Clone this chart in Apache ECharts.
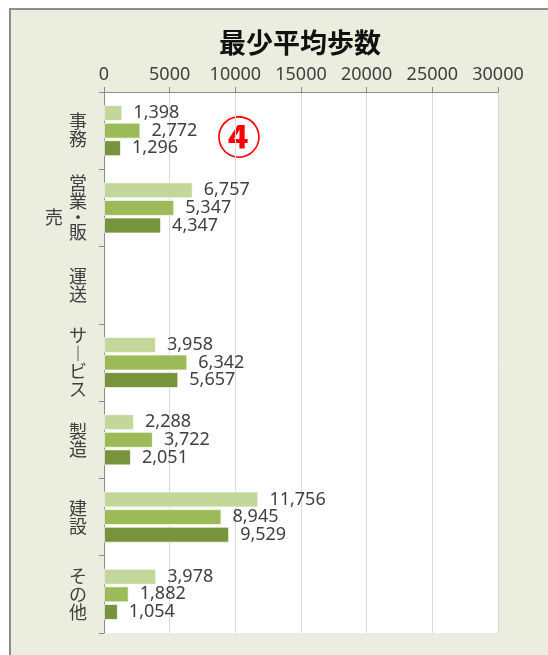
<!DOCTYPE html>
<html>
<head>
<meta charset="utf-8">
<script src="https://cdn.jsdelivr.net/npm/echarts@6/dist/echarts.min.js"></script>
<style>
  html, body { margin: 0; padding: 0; background: #ffffff; }
  #frame {
    position: absolute; left: 9px; top: 8px; width: 539px; height: 647px;
    background: #EBEEDF; box-sizing: border-box;
    border-left: 2px solid #8c8c8c; border-top: 2px solid #8c8c8c;
  }
  #chart { position: absolute; left: 0; top: 0; width: 548px; height: 655px; }
</style>
</head>
<body>
<div id="frame"></div>
<div id="chart"></div>
<script>
// Occupation categories, top to bottom
const categories = ['事務', '営業・販売', '運送', 'サービス', '製造', '建設', 'その他'];

// Three survey groups (no bars for 運送)
const group1 = [1398, 6757, null, 3958, 2288, 11756, 3978];
const group2 = [2772, 5347, null, 6342, 3722, 8945, 1882];
const group3 = [1296, 4347, null, 5657, 2051, 9529, 1054];

// Value axis range and step
const axisMin = 0;
const axisMax = 30000;
const axisStep = 5000;

const titleText = '最少平均歩数';
const markText = '④';

const CJK = "'Noto Sans CJK JP', 'Noto Sans CJK SC', sans-serif";
const LATIN = "'Noto Sans', 'Liberation Sans', sans-serif";
const textColor = '#404040';

// Category names are written vertically, one character per line
function verticalLabel(name) {
  if (name === '営業・販売') {
    return '{c|営}\n{c|業}\n{s|売}{d|・}\n{c|販}';
  }
  return name.split('').map(ch => '{c|' + (ch === 'ー' ? '︱' : ch) + '}').join('\n');
}

const groups = [
  { name: 'グループ1', data: group1, color: '#C4D79B' },
  { name: 'グループ2', data: group2, color: '#9BBB59' },
  { name: 'グループ3', data: group3, color: '#77933C' }
];

const chart = echarts.init(document.getElementById('chart'), null, { renderer: 'canvas' });

chart.setOption({
  backgroundColor: 'transparent',
  animation: false,
  title: {
    text: titleText,
    left: 295,
    top: 24,
    textAlign: 'center',
    textStyle: { fontFamily: CJK, fontSize: 27, fontWeight: 'bold', color: '#111111' }
  },
  grid: {
    left: 104, top: 92, right: 50, bottom: 22,
    show: true, backgroundColor: '#ffffff', borderWidth: 0,
    containLabel: false
  },
  xAxis: {
    type: 'value',
    position: 'top',
    min: axisMin, max: axisMax, interval: axisStep,
    axisLine: { show: true, lineStyle: { color: '#8c8c8c', width: 1 } },
    axisTick: { show: true, length: 5, lineStyle: { color: '#8c8c8c' } },
    splitLine: { show: true, lineStyle: { color: '#d9d9d9', width: 1 } },
    axisLabel: {
      fontFamily: LATIN, fontSize: 18, color: textColor, margin: 8,
      formatter: v => String(v)
    }
  },
  yAxis: {
    type: 'category',
    inverse: true,
    data: categories,
    axisLine: { show: true, lineStyle: { color: '#8c8c8c', width: 1 } },
    axisTick: { show: true, length: 5, lineStyle: { color: '#8c8c8c' } },
    splitLine: { show: false },
    axisLabel: {
      margin: 17,
      formatter: verticalLabel,
      rich: {
        c: { fontFamily: CJK, fontSize: 18, lineHeight: 18, color: textColor },
        d: { fontFamily: CJK, fontSize: 18, lineHeight: 13, color: textColor },
        s: { fontFamily: CJK, fontSize: 18, lineHeight: 13, color: textColor, padding: [0, 6, 0, 0] }
      }
    }
  },
  graphic: [{
    type: 'text',
    x: 239, y: 137,
    style: {
      text: markText,
      textAlign: 'center', textVerticalAlign: 'middle',
      fontFamily: CJK, fontSize: 44, fontWeight: 'bold', fill: '#ff0000'
    }
  }],
  series: groups.map(g => ({
    type: 'bar',
    name: g.name,
    data: g.data,
    barWidth: 16,
    barGap: '10%',
    itemStyle: { color: g.color, borderColor: 'rgba(255,255,255,0.7)', borderWidth: 1 },
    label: {
      show: true,
      position: 'right',
      distance: 11,
      fontFamily: LATIN,
      fontSize: 18,
      color: textColor,
      formatter: p => Number(p.value).toLocaleString('en-US')
    }
  }))
});
</script>
</body>
</html>
